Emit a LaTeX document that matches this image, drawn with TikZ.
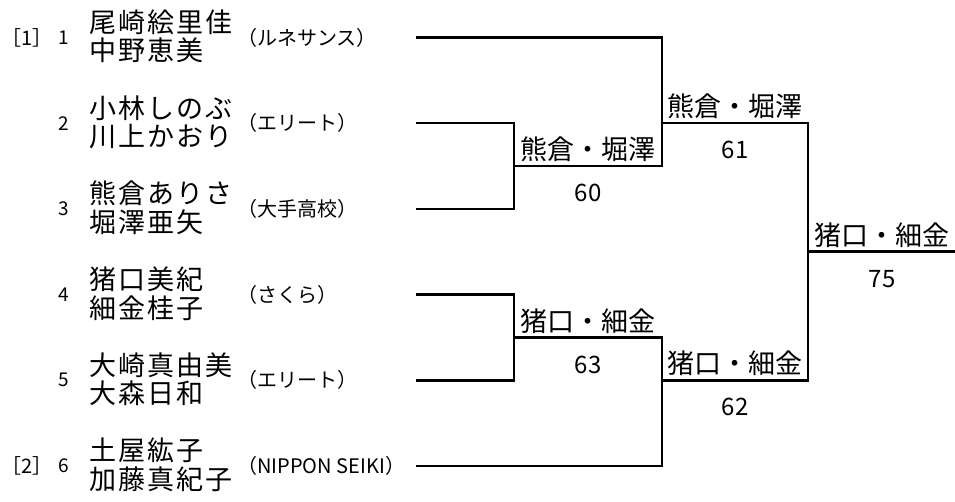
\documentclass[tikz,border=0pt]{standalone}
\usepackage{fontspec}
\setmainfont{Noto Sans CJK JP}
\newfontfamily\namefont[LetterSpace=8]{Noto Sans CJK JP}

\begin{document}
\begin{tikzpicture}[x=1pt, y=-1pt, line width=2.6pt,
  player/.style={anchor=west, inner sep=0pt, align=left, font=\namefont\fontsize{27}{28.5}\selectfont},
  club/.style={anchor=west, inner sep=0pt, font=\fontsize{20}{20}\selectfont},
  seed/.style={inner sep=0pt, font=\fontsize{20}{20}\selectfont},
  num/.style={inner sep=0pt, font=\fontsize{19}{19}\selectfont},
  winner/.style={anchor=south, inner sep=0pt, font=\fontsize{27}{27}\selectfont},
  score/.style={inner sep=0pt, font=\fontsize{24}{24}\selectfont}]
  \useasboundingbox (0,0) rectangle (955,502);
  \def\dy{85.7}
  \def\xa{416}
  \def\xb{514}
  \def\xc{662}
  \def\xd{808}
  \def\xe{955}

  % entries
  \foreach \i/\nm/\cl in {1/{尾崎絵里佳\\中野恵美}/ルネサンス,
                          2/{小林しのぶ\\川上かおり}/エリート,
                          3/{熊倉ありさ\\堀澤亜矢}/大手高校,
                          4/{猪口美紀\\細金桂子}/さくら,
                          5/{大崎真由美\\大森日和}/エリート,
                          6/{土屋紘子\\加藤真紀子}/NIPPON SEIKI} {
    \pgfmathsetmacro\y{37.5+(\i-1)*\dy}
    \node[num] (num\i) at (64,\y) {\i};
    \node[player] (player\i) at (88,\y-1) {\nm};
    \node[club] (club\i) at (236,\y) {（\cl）};
    \coordinate (p\i) at (\xa,\y);
  }
  \node[seed] (seed1) at (27,37.5) {［1］};
  \node[seed] (seed2) at (27,466) {［2］};

  % bracket
  \coordinate (m23) at (\xb,166);
  \coordinate (m45) at (\xb,337.5);
  \coordinate (s1) at (\xc,123.2);
  \coordinate (s2) at (\xc,380.3);
  \coordinate (f) at (\xd,251.7);
  \coordinate (champ) at (\xe,251.7);
  \draw (p2) -| (m23) |- (p3);
  \draw (p4) -| (m45) |- (p5);
  \draw (p1) -| (s1) |- (m23);
  \draw (p6) -| (s2) |- (m45);
  \draw (s1) -| (f) |- (s2);
  \draw (f) -- (champ);

  % winners and scores
  \foreach \x/\y/\w/\s [count=\k] in {588/166/熊倉・堀澤/60, 735/123.2/熊倉・堀澤/61,
                                     588/337.5/猪口・細金/63, 735/380.3/猪口・細金/62,
                                     882/251.7/猪口・細金/75} {
    \node[winner] (win\k) at (\x,\y-3) {\w};
    \node[score] (score\k) at (\x,\y+27) {\s};
  }
\end{tikzpicture}
\end{document}
